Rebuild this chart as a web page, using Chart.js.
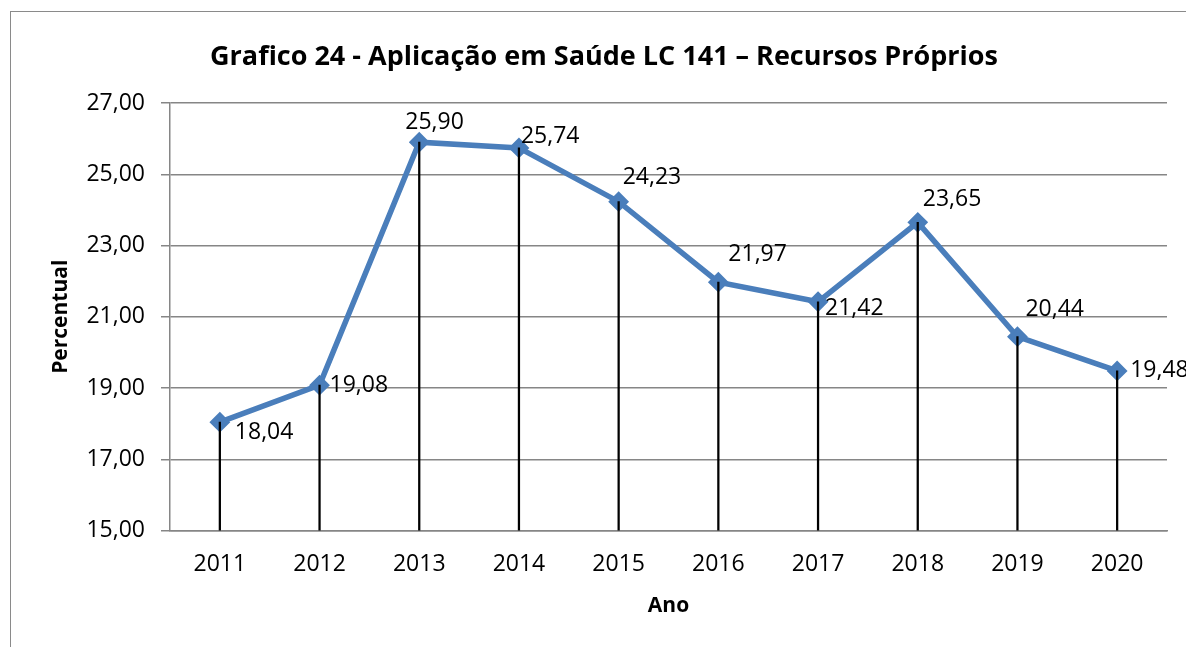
<!DOCTYPE html>
<html>
<head>
<meta charset="utf-8">
<script src="https://cdn.jsdelivr.net/npm/chart.js@4/dist/chart.umd.min.js"></script>
<style>
  html, body { margin: 0; padding: 0; background: #fff; overflow: hidden; width: 1186px; height: 647px; }
  #frame { position: absolute; left: 10px; top: 11px; width: 1190px; height: 650px;
           border-left: 1px solid #8a8a8a; border-top: 1px solid #8a8a8a; }
  #wrap { position: absolute; left: 0; top: 0; width: 1186px; height: 635px; }
</style>
</head>
<body>
<div id="frame"><div id="wrap"><canvas id="c" width="1186" height="635"></canvas></div></div>
<script>
const titleText = 'Grafico 24 - Aplicação em Saúde LC 141 – Recursos Próprios';
const categories = ['2011', '2012', '2013', '2014', '2015', '2016', '2017', '2018', '2019', '2020'];
const values = [18.04, 19.08, 25.90, 25.74, 24.23, 21.97, 21.42, 23.65, 20.44, 19.48];
const yTicks = [15, 17, 19, 21, 23, 25, 27];
const xTitle = 'Ano';
const yTitle = 'Percentual';

// label placement (left edge offset, vertical center offset) relative to each point
const labelOffsets = [[15, 10], [10, 0], [-14, -20], [2, -11], [4, -24], [10, -28], [7, 7], [5, -23], [8, -27], [13, 0]];

const fmt = v => v.toFixed(2).replace('.', ',');
const FONT = "'Open Sans', sans-serif";

const labelPlugin = {
  id: 'pointLabels',
  afterDatasetsDraw(chart) {
    const meta = chart.getDatasetMeta(1);
    const ctx = chart.ctx;
    ctx.save();
    ctx.font = '23px ' + FONT;
    ctx.fillStyle = '#000';
    ctx.textAlign = 'left';
    ctx.textBaseline = 'middle';
    meta.data.forEach((pt, i) => {
      const off = labelOffsets[i];
      ctx.fillText(fmt(values[i]), pt.x + off[0], pt.y + off[1]);
    });
    ctx.restore();
  }
};

new Chart(document.getElementById('c'), {
  type: 'bar',
  data: {
    labels: categories,
    datasets: [
      {
        type: 'bar',
        data: values,
        backgroundColor: '#000',
        barThickness: 1.6,
        order: 0
      },
      {
        type: 'line',
        data: values,
        borderColor: '#4a7ebb',
        backgroundColor: '#4a7ebb',
        borderWidth: 5.5,
        pointStyle: 'rectRot',
        pointRadius: 9,
        pointBorderWidth: 2,
        pointBackgroundColor: '#4a7ebb',
        pointBorderColor: '#4a7ebb',
        tension: 0,
        order: 1
      }
    ]
  },
  options: {
    responsive: false,
    animation: false,
    devicePixelRatio: 1,
    layout: { padding: { left: 30, right: 30, top: 0, bottom: 0 } },
    plugins: {
      legend: { display: false },
      tooltip: { enabled: false },
      title: {
        display: true,
        text: titleText,
        color: '#000',
        font: { family: FONT, size: 27, weight: 'bold' },
        padding: { top: 29, bottom: 29.6 }
      }
    },
    scales: {
      x: {
        offset: true,
        grid: { display: false, drawTicks: false, tickLength: 0 },
        border: { display: true, color: '#868686', width: 1.5 },
        ticks: { color: '#000', font: { family: FONT, size: 23 }, padding: 20, maxRotation: 0 },
        title: { display: true, text: xTitle, color: '#000', font: { family: FONT, size: 21, weight: 'bold' }, padding: { top: 0, bottom: 28 } },
        afterFit(s) { s.height = 116.5; }
      },
      y: {
        min: 15,
        max: 27,
        afterBuildTicks(s) { s.ticks = yTicks.map(v => ({ value: v })); },
        grid: { color: '#868686', lineWidth: 1.5, tickLength: 9, drawTicks: true },
        border: { display: true, color: '#868686', width: 1.5 },
        ticks: { color: '#000', font: { family: FONT, size: 23 }, padding: 16, callback: v => fmt(v) },
        title: { display: true, text: yTitle, color: '#000', font: { family: FONT, size: 21, weight: 'bold' }, padding: { top: 7, bottom: 0 } },
        afterFit(s) { s.width = 129; }
      }
    }
  },
  plugins: [labelPlugin]
});
</script>
</body>
</html>
